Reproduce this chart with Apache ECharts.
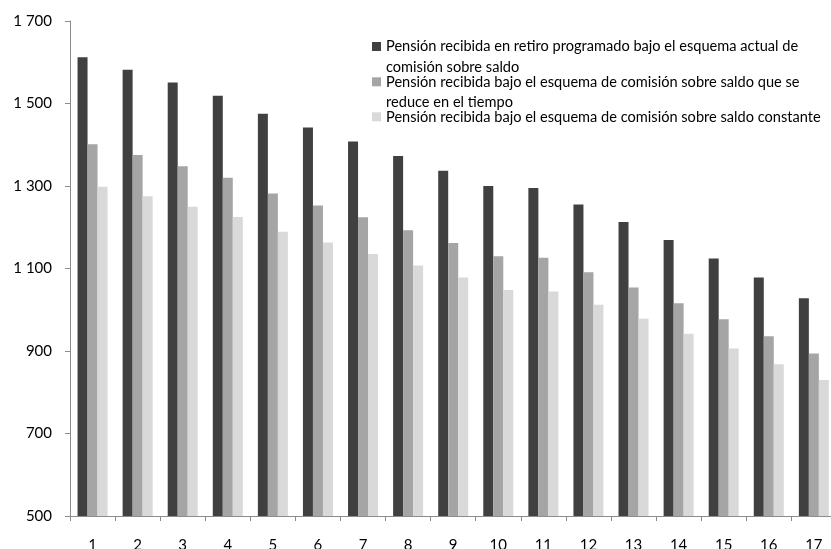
<!DOCTYPE html>
<html>
<head>
<meta charset="utf-8">
<script src="https://cdn.jsdelivr.net/npm/echarts@6/dist/echarts.min.js"></script>
<style>
  html, body { margin: 0; padding: 0; background: #fff; }
  #chart { width: 831px; height: 549px; }
</style>
</head>
<body>
<div id="chart"></div>
<script>
// Year of retirement (1..17)
const years = ['1','2','3','4','5','6','7','8','9','10','11','12','13','14','15','16','17'];

// Pension under the current balance-based fee scheme (programmed withdrawal)
const actual = [1612, 1582, 1551, 1519, 1475, 1442, 1408, 1373, 1337, 1300, 1295, 1255, 1213, 1169, 1124, 1078, 1028];
// Pension under a balance fee that declines over time
const decreciente = [1401, 1375, 1348, 1320, 1282, 1253, 1224, 1193, 1162, 1130, 1126, 1091, 1054, 1016, 977, 936, 894];
// Pension under a constant balance fee
const constante = [1298, 1275, 1250, 1225, 1189, 1163, 1135, 1107, 1078, 1048, 1044, 1012, 978, 942, 906, 868, 830];

const seriesNames = [
  'Pensión recibida en retiro programado bajo el esquema actual de comisión sobre saldo',
  'Pensión recibida bajo el esquema de comisión sobre saldo que se reduce en el tiempo',
  'Pensión recibida bajo el esquema de comisión sobre saldo constante'
];
// Legend text, wrapped the way it is laid out beside each swatch
const legendLines = [
  ['Pensión recibida en retiro programado bajo el esquema actual de', 'comisión sobre saldo'],
  ['Pensión recibida bajo el esquema de comisión sobre saldo que se', 'reduce en el tiempo'],
  ['Pensión recibida bajo el esquema de comisión sobre saldo constante']
];
const colors = ['#404040', '#a5a5a5', '#d9d9d9'];

const FONT = 'Lato';
const AXIS_COLOR = '#8c8c8c';
const LH = 20.5;

// One legend block per series; the swatch sits beside the first text line.
function legendFor(i, top) {
  const lines = legendLines[i];
  const twoLines = lines.length > 1;
  return {
    show: true,
    left: 372,
    top: top,
    padding: 0,
    orient: 'vertical',
    itemWidth: 9,
    itemHeight: 9,
    itemGap: 0,
    icon: 'rect',
    selectedMode: false,
    data: [seriesNames[i]],
    // an empty leading line keeps the swatch level with the first line
    formatter: () => twoLines ? ' \n' + lines.join('\n') : lines[0],
    textStyle: {
      fontFamily: FONT,
      fontSize: 14.6,
      color: '#000',
      lineHeight: twoLines ? LH : 16
    }
  };
}

const chart = echarts.init(document.getElementById('chart'), null, { renderer: 'canvas' });
chart.setOption({
  animation: false,
  backgroundColor: '#ffffff',
  color: colors,
  legend: [
    legendFor(0, 42 + 4.5 - 1.5 * LH),
    legendFor(1, 77.3 + 4.5 - 1.5 * LH),
    legendFor(2, 112.3 - 3.5)
  ],
  grid: {
    left: 70,
    right: -5.4,
    top: 21,
    bottom: 33,
    containLabel: false,
    outerBoundsMode: 'none'
  },
  xAxis: {
    type: 'category',
    data: years,
    axisLine: { lineStyle: { color: AXIS_COLOR, width: 1 } },
    axisTick: { show: true, length: 5, lineStyle: { color: AXIS_COLOR } },
    axisLabel: { fontFamily: FONT, fontSize: 15, color: '#000', margin: 22 }
  },
  yAxis: {
    type: 'value',
    min: 500,
    max: 1700,
    interval: 200,
    splitLine: { show: false },
    axisLine: { show: true, lineStyle: { color: AXIS_COLOR, width: 1 } },
    axisTick: { show: true, length: 5, lineStyle: { color: AXIS_COLOR } },
    axisLabel: {
      fontFamily: FONT,
      fontSize: 15,
      color: '#000',
      margin: 18,
      formatter: v => String(v).replace(/\B(?=(\d{3})+(?!\d))/g, ' ')
    }
  },
  series: [
    { name: seriesNames[0], type: 'bar', data: actual, barWidth: 10, barGap: '0%', itemStyle: { color: colors[0] } },
    { name: seriesNames[1], type: 'bar', data: decreciente, barWidth: 10, barGap: '0%', itemStyle: { color: colors[1] } },
    { name: seriesNames[2], type: 'bar', data: constante, barWidth: 10, barGap: '0%', itemStyle: { color: colors[2] } }
  ]
});
</script>
</body>
</html>
